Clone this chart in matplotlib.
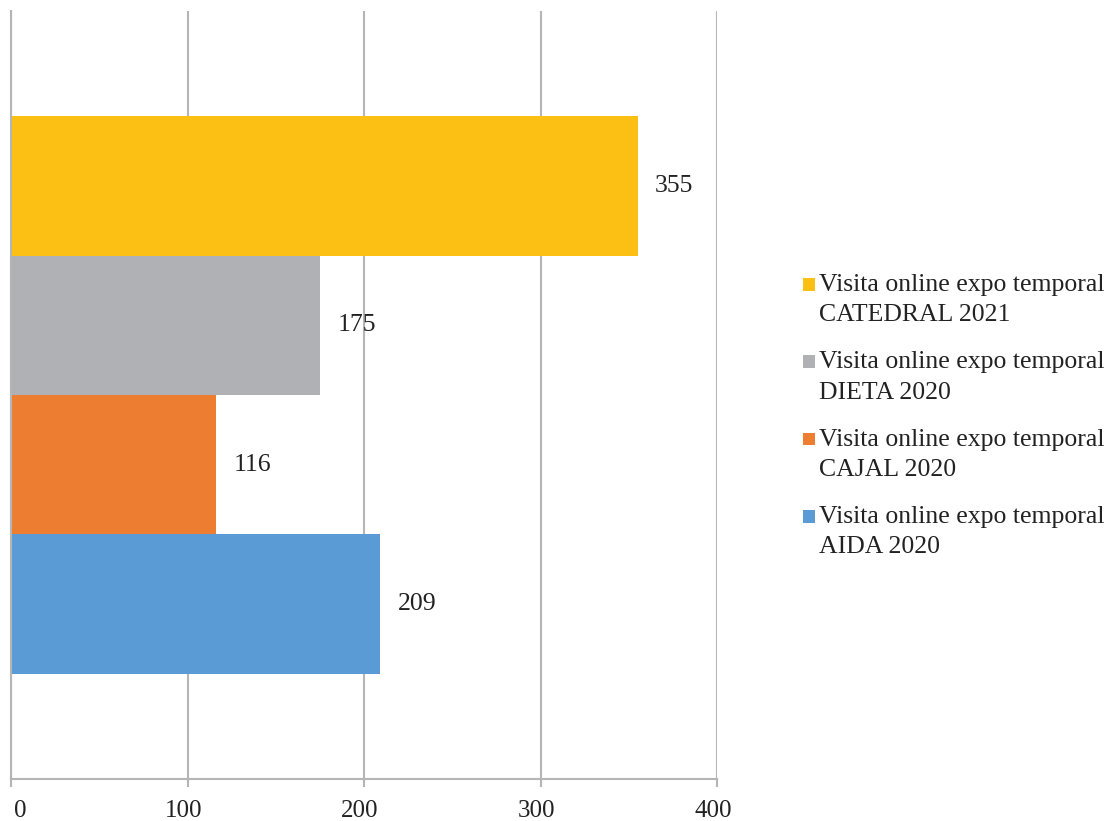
import matplotlib

matplotlib.use("Agg")
import matplotlib.pyplot as plt
import matplotlib.transforms as mtransforms
from matplotlib.patches import Patch, Rectangle
from matplotlib.legend_handler import HandlerPatch

labels = [
    "Visita online expo temporal\nAIDA 2020",
    "Visita online expo temporal\nCAJAL 2020",
    "Visita online expo temporal\nDIETA 2020",
    "Visita online expo temporal\nCATEDRAL 2021",
]
values = [209, 116, 175, 355]
colors = ["#5B9BD5", "#ED7D31", "#B0B1B4", "#FBC013"]
x_ticks = [0, 100, 200, 300, 400]

plt.rcParams["font.family"] = ["Liberation Serif", "DejaVu Serif"]
grid_color = "#B5B5B5"
text_color = "#222222"


def top_square(legend, orig_handle, xdescent, ydescent, width, height, fontsize):
    # small square aligned with the first line of a two-line label
    sq = width
    return Rectangle((-xdescent, -ydescent + height - sq * 1.02), sq, sq)


fig = plt.figure(figsize=(11.12, 8.21), dpi=100)
ax = fig.add_axes([0.0099, 0.0512, 0.6349, 0.9354])

positions = list(range(len(values)))
bars = ax.barh(positions, values, height=1.0, color=colors, zorder=2)

for bar, v in zip(bars, values):
    ax.text(bar.get_width() + 10, bar.get_y() + bar.get_height() / 2, str(v),
            ha="left", va="center", fontsize=18.5, color=text_color)

ax.set_xlim(0, 400)
ax.set_ylim(-1.253, 4.253)
ax.set_xticks(x_ticks)
ax.set_yticks([])
ax.tick_params(axis="x", length=6, width=1.5, color=grid_color, labelsize=18,
               pad=9, labelcolor=text_color)
ax.grid(axis="x", color=grid_color, linewidth=1.5, zorder=0)
for s in ["top", "right"]:
    ax.spines[s].set_visible(False)
for s in ["left", "bottom"]:
    ax.spines[s].set_color(grid_color)
    ax.spines[s].set_linewidth(1.5)

# the labels sit a little left of their ticks, the first one pushed inside
for i, lab in enumerate(ax.get_xticklabels()):
    dx = 9 if i == 0 else -4
    lab.set_transform(lab.get_transform() +
                      mtransforms.ScaledTranslation(dx / 100, 0, fig.dpi_scale_trans))

handles = [Patch(facecolor=c) for c in colors][::-1]
leg = fig.legend(handles, labels[::-1], loc="center left", bbox_to_anchor=(0.701, 0.493),
                 frameon=False, fontsize=18.5, handlelength=0.5, handleheight=2.4,
                 handletextpad=0.15, labelspacing=0.98, labelcolor=text_color,
                 handler_map={Patch: HandlerPatch(patch_func=top_square)})
for t in leg.get_texts():
    t.set_linespacing(1.48)

fig.savefig("out.png", dpi=100)
